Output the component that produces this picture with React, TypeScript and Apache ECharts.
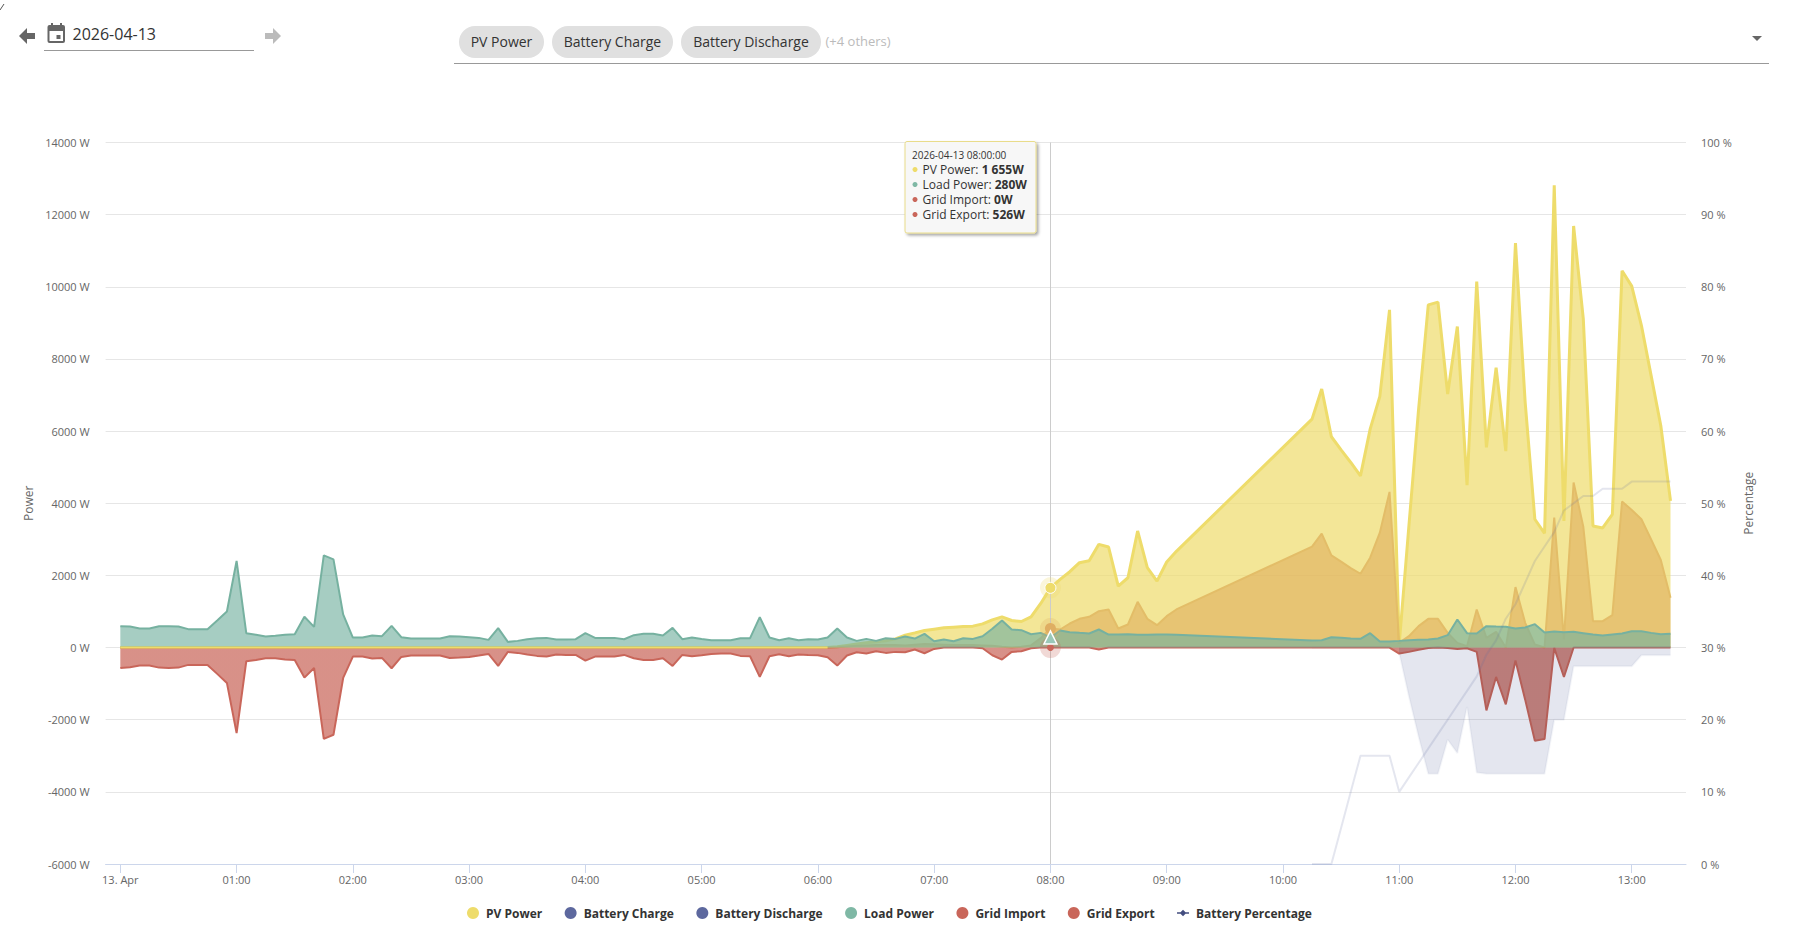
import React, { useEffect, useRef } from "react";
import * as echarts from "echarts";

const FONT = "'Open Sans', sans-serif";
const DAY = Date.UTC(2026, 3, 13);
const MIN = 60000;

// Minutes after midnight of each sample (the logger has no samples between 09:05 and 10:15)
const sampleMinutes = [
  0, 5, 10, 15, 20, 25, 30, 35, 40, 45,
  50, 55, 60, 65, 70, 75, 80, 85, 90, 95,
  100, 105, 110, 115, 120, 125, 130, 135, 140, 145,
  150, 155, 160, 165, 170, 175, 180, 185, 190, 195,
  200, 205, 210, 215, 220, 225, 230, 235, 240, 245,
  250, 255, 260, 265, 270, 275, 280, 285, 290, 295,
  300, 305, 310, 315, 320, 325, 330, 335, 340, 345,
  350, 355, 360, 365, 370, 375, 380, 385, 390, 395,
  400, 405, 410, 415, 420, 425, 430, 435, 440, 445,
  450, 455, 460, 465, 470, 475, 480, 485, 490, 495,
  500, 505, 510, 515, 520, 525, 530, 535, 540, 545,
  615, 620, 625, 630, 635, 640, 645,
  650, 655, 660, 665, 670, 675, 680, 685, 690, 695,
  700, 705, 710, 715, 720, 725, 730, 735, 740, 745,
  750, 755, 760, 765, 770, 775, 780, 785, 790, 795, 800,
];

const pvPower = [
  0, 0, 0, 0, 0, 0, 0, 0, 0, 0,
  0, 0, 0, 0, 0, 0, 0, 0, 0, 0,
  0, 0, 0, 0, 0, 0, 0, 0, 0, 0,
  0, 0, 0, 0, 0, 0, 0, 0, 0, 0,
  0, 0, 0, 0, 0, 0, 0, 0, 0, 0,
  0, 0, 0, 0, 0, 0, 0, 0, 0, 0,
  0, 0, 0, 0, 0, 0, 0, 0, 0, 0,
  0, 0, 0, 0, 20, 60, 100, 130, 160, 190,
  240, 343, 407, 472, 509, 546, 565, 583, 593, 657,
  769, 852, 750, 722, 852, 1222, 1655, 1889, 2102, 2352,
  2408, 2861, 2787, 1704, 1935, 3232, 2213, 1843, 2370, 2667,
  6333, 7167, 5843, 5480, 5130, 4759, 6056,
  6963, 9361, 100, 3370, 6611, 9500, 9574, 7028, 8898, 4500,
  10147, 5547, 7759, 5444, 11213, 6797, 3556, 3167, 12814, 3508,
  11685, 9111, 3370, 3315, 3694, 10444, 10018, 8926, 7537, 6148, 4065,
];

const loadPower = [
  593, 583, 528, 528, 593, 593, 583, 510, 510, 510,
  750, 1000, 2400, 398, 352, 305, 324, 352, 370, 852,
  574, 2556, 2445, 917, 278, 278, 333, 315, 602, 287,
  250, 250, 250, 250, 315, 305, 287, 268, 213, 537,
  157, 185, 231, 259, 268, 222, 222, 231, 398, 268,
  268, 268, 231, 343, 380, 380, 333, 546, 231, 278,
  240, 204, 204, 204, 259, 259, 843, 278, 204, 259,
  204, 231, 222, 278, 528, 278, 185, 240, 185, 259,
  240, 305, 250, 380, 176, 222, 176, 259, 240, 315,
  519, 750, 500, 482, 370, 407, 280, 472, 426, 407,
  389, 500, 361, 361, 370, 352, 352, 361, 361, 352,
  195, 204, 287, 269, 250, 241, 398,
  167, 167, 185, 204, 213, 222, 250, 343, 778, 398,
  389, 593, 583, 574, 528, 556, 648, 417, 444, 426,
  435, 398, 361, 333, 361, 389, 454, 454, 407, 370, 380,
];

const gridImport = [
  -565, -546, -500, -500, -556, -565, -556, -481, -481, -481,
  -730, -980, -2370, -380, -343, -296, -296, -333, -343, -833,
  -565, -2530, -2417, -843, -250, -250, -305, -287, -574, -259,
  -222, -222, -222, -222, -287, -278, -259, -222, -176, -509,
  -120, -148, -194, -231, -250, -194, -204, -204, -361, -250,
  -250, -250, -204, -296, -343, -343, -296, -509, -204, -240,
  -213, -176, -167, -167, -231, -240, -815, -240, -185, -240,
  -194, -204, -213, -268, -500, -222, -130, -167, -102, -148,
  -120, -130, -55, -157, -37, 0, 0, 0, 0, -18,
  -213, -333, -120, -102, -18, 0, 0, 0, 0, 0,
  0, -55, 0, 0, 0, 0, 0, 0, 0, 0,
  0, 0, 0, 0, 0, 0, 0,
  0, 0, -167, -120, -60, -10, 0, -10, -40, -18,
  -120, -1741, -815, -1574, -361, -1444, -2584, -2537, -10, -815,
  0, 0, 0, 0, 0, 0, 0, 0, 0, 0, 0,
];

const gridExport = [
  0, 0, 0, 0, 0, 0, 0, 0, 0, 0,
  0, 0, 0, 0, 0, 0, 0, 0, 0, 0,
  0, 0, 0, 0, 0, 0, 0, 0, 0, 0,
  0, 0, 0, 0, 0, 0, 0, 0, 0, 0,
  0, 0, 0, 0, 0, 0, 0, 0, 0, 0,
  0, 0, 0, 0, 0, 0, 0, 0, 0, 0,
  0, 0, 0, 0, 0, 0, 0, 0, 0, 0,
  0, 0, 0, 0, 10, 30, 50, 60, 70, 70,
  70, 60, 80, 100, 90, 80, 70, 70, 70, 60,
  50, 20, 0, 20, 60, 260, 526, 500, 667, 796,
  852, 1009, 1056, 528, 639, 1269, 796, 620, 870, 1056,
  2796, 3157, 2556, 2380, 2204, 2046, 2491,
  3185, 4315, 130, 315, 593, 796, 796, 407, 130, 37,
  1056, 269, 435, 0, 1676, 685, 83, 0, 3602, 222,
  4574, 3352, 731, 731, 898, 4047, 3815, 3556, 3000, 2426, 1380,
];

// The battery only reports from 10:15 on (the last 38 samples)
const batteryStart = 110;
const batteryCharge = [
  0, 0, 0, 0, 0, 0, 0, 0, 0,
  -150, -1352, -2463, -3500, -3500, -2556, -2926, -1648,
  -3463, -3500, -3500, -3500, -3500, -3500, -3500, -3500, -2000, -2000,
  -518, -518, -518, -518, -518, -518, -518, -213, -213, -213, -213,
];
const batteryDischarge = [
  0, 0, 0, 0, 0, 0, 0, 0, 0,
  0, 0, 0, 0, 0, 0, 0, 0,
  0, 0, 0, 0, 0, 0, 0, 0, 0, 0,
  0, 0, 0, 0, 0, 0, 0, 0, 0, 0, 0,
];
const batteryPercentage = [
  0, 0, 0, 5, 10, 15, 15, 15, 15,
  10, 12, 14, 16, 18, 20, 22, 24,
  26, 29, 31, 34, 36, 39, 42, 44, 46, 49,
  50, 51, 51, 52, 52, 52, 53, 53, 53, 53, 53,
];

const hourLabels = [
  "13. Apr", "01:00", "02:00", "03:00", "04:00", "05:00", "06:00",
  "07:00", "08:00", "09:00", "10:00", "11:00", "12:00", "13:00",
];

const legendNames = [
  "PV Power", "Battery Charge", "Battery Discharge", "Load Power",
  "Grid Import", "Grid Export", "Battery Percentage",
];

const chipLabels = ["PV Power", "Battery Charge", "Battery Discharge"];
const tipTitle = "2026-04-13 08:00:00";
const tipRows = [
  ["PV Power: ", "1 655W", "#eedc6b"],
  ["Load Power: ", "280W", "#7fb8a5"],
  ["Grid Import: ", "0W", "#c9665a"],
  ["Grid Export: ", "526W", "#c9665a"],
];

const CURSOR_MIN = 480;
const CURSOR_INDEX = sampleMinutes.indexOf(CURSOR_MIN);

const toTime = (m: number) => DAY + m * MIN;
const zip = (ys: number[], xs = sampleMinutes) => ys.map((v, i) => [toTime(xs[i]), v]);
const batteryMinutes = sampleMinutes.slice(batteryStart);

const COLORS = {
  pv: "#eedc6b",
  pvArea: "rgba(238,220,107,0.7)",
  charge: "#5d689e",
  soft: "rgba(93,104,158,0.17)",
  faint: "rgba(93,104,158,0.06)",
  load: "#76b1a0",
  loadArea: "rgba(115,176,159,0.64)",
  red: "#c9665a",
  redArea: "rgba(201,102,90,0.72)",
  redDark: "#b55f58",
  redDarkArea: "rgba(172,89,83,0.75)",
  exportLine: "#e3bd68",
  exportArea: "rgba(219,162,79,0.5)",
};

// Cursor markers at 08:00, read from the series at that sample
const cursorMarks = [
  { v: gridImport[CURSOR_INDEX], color: COLORS.red, symbol: "circle", size: 7, border: 0 },
  { v: gridExport[CURSOR_INDEX], color: "#dfae62", symbol: "circle", size: 11, border: 0 },
  { v: pvPower[CURSOR_INDEX], color: COLORS.pv, symbol: "circle", size: 11, border: 1 },
  { v: loadPower[CURSOR_INDEX], color: "#9ac8b8", symbol: "triangle", size: 13, border: 1.5 },
];

const haloMarks = [
  { v: gridImport[CURSOR_INDEX], color: COLORS.red },
  { v: gridExport[CURSOR_INDEX], color: "#dfae62" },
  { v: pvPower[CURSOR_INDEX], color: COLORS.pv },
];

const base = {
  type: "line",
  showSymbol: false,
  symbol: "none",
  smooth: false,
  silent: true,
  animation: false,
  emphasis: { disabled: true },
};

const txt = (x: number, y: number, text: string, fontSize: number, fill: string, extra: any = {}) => ({
  type: "text",
  x,
  y,
  z: 100,
  silent: true,
  style: { text, fontSize, fill, fontFamily: FONT, verticalAlign: "middle", align: "left", ...extra },
});

const chipX = [
  [459, 85],
  [552, 121],
  [681, 140],
];

function headerGraphics() {
  const els: any[] = [
    { type: "line", shape: { x1: 0, y1: 10, x2: 4, y2: 4 }, style: { stroke: "#555", lineWidth: 1 } },
    {
      type: "polygon",
      shape: { points: [[19, 36], [27, 28], [27, 33], [35, 33], [35, 39], [27, 39], [27, 44]] },
      style: { fill: "#666" },
    },
    { type: "rect", shape: { x: 47.5, y: 25, width: 17.5, height: 18, r: 2 }, style: { fill: "#666" } },
    { type: "rect", shape: { x: 49.5, y: 31, width: 13.5, height: 10 }, style: { fill: "#fff" } },
    { type: "rect", shape: { x: 56.5, y: 35, width: 4, height: 4 }, style: { fill: "#666" } },
    { type: "rect", shape: { x: 51, y: 23, width: 2, height: 3 }, style: { fill: "#666" } },
    { type: "rect", shape: { x: 60, y: 23, width: 2, height: 3 }, style: { fill: "#666" } },
    txt(72.5, 34, "2026-04-13", 16, "#333"),
    { type: "line", shape: { x1: 44, y1: 50.5, x2: 254, y2: 50.5 }, style: { stroke: "#999", lineWidth: 1 } },
    {
      type: "polygon",
      shape: { points: [[281, 36], [273, 28], [273, 33], [265, 33], [265, 39], [273, 39], [273, 44]] },
      style: { fill: "#bbb" },
    },
    { type: "line", shape: { x1: 454, y1: 63.5, x2: 1769, y2: 63.5 }, style: { stroke: "#999", lineWidth: 1 } },
    { type: "polygon", shape: { points: [[1752, 36], [1762, 36], [1757, 41]] }, style: { fill: "#666" } },
    txt(825.5, 41, "(+4 others)", 13, "#bbb"),
  ];
  chipLabels.forEach((label, i) => {
    const [x, w] = chipX[i];
    els.push({
      type: "rect",
      shape: { x, y: 26, width: w, height: 32, r: 16 },
      style: { fill: "#e0e0e0" },
    });
    els.push(txt(x + w / 2, 41.5, label, 14, "#333", { align: "center" }));
  });
  return els;
}

function tipGraphics() {
  const els: any[] = [
    {
      type: "rect",
      z: 99,
      silent: true,
      shape: { x: 905, y: 141.5, width: 131, height: 91.5, r: 2 },
      style: {
        fill: "#f7f7f7",
        stroke: "#e9dc8a",
        lineWidth: 1,
        shadowBlur: 3,
        shadowOffsetX: 2,
        shadowOffsetY: 2,
        shadowColor: "rgba(0,0,0,0.35)",
      },
    },
    txt(912, 155, tipTitle, 10, "#333"),
  ];
  tipRows.forEach(([name, value, color], i) => {
    const y = 169.5 + i * 15;
    els.push({
      type: "circle",
      z: 100,
      silent: true,
      shape: { cx: 915, cy: y, r: 2.5 },
      style: { fill: color },
    });
    els.push({
      type: "text",
      x: 922.5,
      y,
      z: 100,
      silent: true,
      style: {
        text: `{a|${name}}{b|${value}}`,
        verticalAlign: "middle",
        fontFamily: FONT,
        rich: {
          a: { fontSize: 12, fill: "#333", fontFamily: FONT },
          b: { fontSize: 12, fill: "#333", fontWeight: 700, fontFamily: FONT },
        },
      },
    });
  });
  return els;
}

function splitColor(a: string, b: string, at: number) {
  return new (echarts.graphic as any).LinearGradient(0, 0, 1, 0, [
    { offset: 0, color: a },
    { offset: at, color: a },
    { offset: at, color: b },
    { offset: 1, color: b },
  ]);
}

export default function App() {
  const ref = useRef<HTMLDivElement>(null);

  useEffect(() => {
    if (!ref.current) return;
    const chart = echarts.init(ref.current, undefined, { renderer: "svg" });
    const noon = 0.825;
    const hourValues = hourLabels.map((_, h) => toTime(h * 60));
    chart.setOption({
      animation: false,
      backgroundColor: "#fff",
      textStyle: { fontFamily: FONT },
      grid: { left: 105.6, right: 110, top: 142.5, bottom: 85, containLabel: false },
      legend: {
        left: 462,
        top: 902,
        itemWidth: 12,
        itemHeight: 12,
        itemGap: 22.4,
        selectedMode: false,
        textStyle: { fontFamily: FONT, fontSize: 12, fontWeight: 700, color: "#333", padding: [0, 0, 0, 2] },
        data: legendNames.map((name) =>
          name === "Battery Percentage"
            ? { name, icon: "path://M0 4.8H3.2L5.5 2.5L7.8 4.8H11V6.2H7.8L5.5 8.5L3.2 6.2H0Z" }
            : { name, icon: "circle" }
        ),
      },
      xAxis: {
        type: "value",
        min: toTime(-7.6),
        max: toTime(808),
        axisLine: { show: true, onZero: false, lineStyle: { color: "#ccd6eb", width: 1 } },
        axisTick: {
          show: true,
          length: 9,
          lineStyle: { color: "#ccd6eb" },
          customValues: hourValues,
        },
        splitLine: { show: false },
        axisLabel: {
          show: true,
          margin: 10,
          fontFamily: FONT,
          fontSize: 11,
          color: "#666",
          customValues: hourValues,
          formatter: (v: number) => hourLabels[Math.round((v - DAY) / 3600000)] ?? "",
        },
      },
      yAxis: [
        {
          type: "value",
          min: -6000,
          max: 14000,
          interval: 2000,
          name: "Power",
          nameLocation: "middle",
          nameGap: 67,
          nameTextStyle: { fontFamily: FONT, fontSize: 12, color: "#666" },
          axisLine: { show: false },
          axisTick: { show: false },
          splitLine: { lineStyle: { color: "#e6e6e6", width: 1 } },
          axisLabel: {
            margin: 16,
            fontFamily: FONT,
            fontSize: 11,
            color: "#666",
            formatter: (v: number) => `${v} W`,
          },
        },
        {
          type: "value",
          position: "right",
          min: 0,
          max: 100,
          interval: 10,
          name: "Percentage",
          nameLocation: "middle",
          nameGap: 53,
          nameTextStyle: { fontFamily: FONT, fontSize: 12, color: "#666" },
          axisLine: { show: false },
          axisTick: { show: false },
          splitLine: { show: false },
          axisLabel: {
            margin: 15,
            fontFamily: FONT,
            fontSize: 11,
            color: "#666",
            formatter: (v: number) => `${v} %`,
          },
        },
      ],
      series: [
        {
          ...base,
          name: "PV Power",
          z: 2,
          data: zip(pvPower),
          itemStyle: { color: COLORS.pv },
          lineStyle: { color: COLORS.pv, width: 3 },
          areaStyle: { color: COLORS.pvArea, opacity: 1 },
        },
        {
          ...base,
          name: "Battery Charge",
          z: 2,
          data: zip(batteryCharge, batteryMinutes),
          itemStyle: { color: COLORS.charge },
          lineStyle: { color: COLORS.faint, width: 2 },
          areaStyle: { color: COLORS.soft, opacity: 1 },
        },
        {
          ...base,
          name: "Battery Discharge",
          z: 2,
          data: zip(batteryDischarge, batteryMinutes),
          itemStyle: { color: COLORS.charge },
          lineStyle: { color: COLORS.faint, width: 2 },
        },
        {
          ...base,
          name: "Grid Export",
          z: 3,
          data: zip(gridExport),
          itemStyle: { color: COLORS.red },
          lineStyle: { color: COLORS.exportLine, width: 2 },
          areaStyle: { color: COLORS.exportArea, opacity: 1 },
        },
        {
          ...base,
          name: "Grid Import",
          z: 4,
          data: zip(gridImport),
          itemStyle: { color: COLORS.red },
          lineStyle: { color: splitColor(COLORS.red, COLORS.redDark, noon), width: 2 },
          areaStyle: { color: splitColor(COLORS.redArea, COLORS.redDarkArea, noon), opacity: 1 },
        },
        {
          ...base,
          name: "Load Power",
          z: 5,
          data: zip(loadPower),
          itemStyle: { color: "#7fb8a5" },
          lineStyle: { color: COLORS.load, width: 2 },
          areaStyle: { color: COLORS.loadArea, opacity: 1 },
        },
        {
          ...base,
          name: "PV Power",
          z: 6,
          data: zip(pvPower.slice(0, 74)),
          itemStyle: { color: COLORS.pv },
          lineStyle: { color: COLORS.pv, width: 2 },
        },
        {
          ...base,
          name: "Battery Percentage",
          z: 7,
          yAxisIndex: 1,
          data: zip(batteryPercentage, batteryMinutes),
          itemStyle: { color: "#434d7f" },
          lineStyle: { color: COLORS.soft, width: 2 },
          markLine: {
            silent: true,
            animation: false,
            symbol: "none",
            label: { show: false },
            lineStyle: { color: "#cccccc", width: 1, type: "solid" },
            data: [{ xAxis: toTime(CURSOR_MIN) }],
          },
        },
        {
          type: "scatter",
          name: "cursor halo",
          silent: true,
          z: 8,
          animation: false,
          data: haloMarks.map((m) => ({
            value: [toTime(CURSOR_MIN), m.v],
            symbol: "circle",
            symbolSize: 21,
            itemStyle: { color: m.color, opacity: 0.25, borderWidth: 0 },
          })),
        },
        {
          type: "scatter",
          name: "cursor point",
          silent: true,
          z: 9,
          animation: false,
          data: cursorMarks.map((m) => ({
            value: [toTime(CURSOR_MIN), m.v],
            symbol: m.symbol,
            symbolSize: m.size,
            itemStyle: { color: m.color, borderColor: "#fff", borderWidth: m.border, opacity: 1 },
          })),
        },
      ],
      graphic: { elements: [...headerGraphics(), ...tipGraphics()] },
    });
    return () => chart.dispose();
  }, []);

  return (
    <div
      ref={ref}
      style={{ position: "fixed", left: 0, top: 0, width: 1796, height: 949, background: "#fff" }}
    />
  );
}
